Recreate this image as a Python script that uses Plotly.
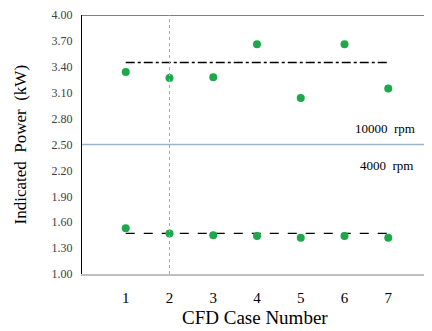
import plotly.graph_objects as go

cases = [1, 2, 3, 4, 5, 6, 7]
power_10000 = [3.34, 3.27, 3.28, 3.66, 3.04, 3.66, 3.15]
power_4000 = [1.53, 1.47, 1.45, 1.44, 1.42, 1.44, 1.42]
mean_10000 = 3.45
mean_4000 = 1.47
y_ticks = [1.00, 1.30, 1.60, 1.90, 2.20, 2.50, 2.80, 3.10, 3.40, 3.70, 4.00]
divider = 2.50

green = "#1ea84c"
font = "Liberation Serif, Times New Roman, serif"

fig = go.Figure()
fig.add_trace(go.Scatter(x=[cases[0], cases[-1]], y=[mean_10000, mean_10000], mode="lines",
                         line=dict(color="black", width=1.5, dash="dashdot"), showlegend=False))
fig.add_trace(go.Scatter(x=[cases[0], cases[-1]], y=[mean_4000, mean_4000], mode="lines",
                         line=dict(color="black", width=1.2, dash="dash"), showlegend=False))
fig.add_trace(go.Scatter(x=cases, y=power_10000, mode="markers",
                         marker=dict(color=green, size=8), showlegend=False))
fig.add_trace(go.Scatter(x=cases, y=power_4000, mode="markers",
                         marker=dict(color=green, size=8), showlegend=False))

fig.add_shape(type="line", xref="paper", yref="y", x0=0, x1=1, y0=divider, y1=divider,
              line=dict(color="#9bb3cf", width=1.5))
fig.add_shape(type="line", xref="paper", yref="y", x0=0, x1=1, y0=4.0, y1=4.0,
              line=dict(color="#7f7f7f", width=2))
fig.add_shape(type="line", xref="x", yref="paper", x0=2, x1=2, y0=0, y1=1,
              line=dict(color="#8faad3", width=1, dash="dot"))

fig.add_annotation(x=0.957, y=2.69, text="10000  rpm", showarrow=False, xref="paper", yref="y",
                   xanchor="right", font=dict(family=font, size=13, color="black"))
fig.add_annotation(x=0.952, y=2.26, text="4000  rpm", showarrow=False, xref="paper", yref="y",
                   xanchor="right", font=dict(family=font, size=13, color="black"))

# axis titles
fig.add_annotation(x=-62/350, y=0.5, xref="paper", yref="paper", text="Indicated  Power  (kW)",
                   textangle=-90, showarrow=False, xanchor="center", yanchor="middle",
                   font=dict(family=font, size=17, color="black"))
fig.add_annotation(x=173/350, y=-43/259, xref="paper", yref="paper", text="CFD Case Number",
                   showarrow=False, xanchor="center", yanchor="middle",
                   font=dict(family=font, size=19, color="black"))

fig.update_layout(
    width=424, height=323,
    margin=dict(l=74, r=0, t=7, b=57),
    plot_bgcolor="white", paper_bgcolor="white",
    font=dict(family=font, color="black"),
)
fig.update_xaxes(range=[0, 8], tickvals=cases, ticktext=[str(c) for c in cases],
                 showgrid=False, zeroline=False, showline=True, linecolor="#bfbfbf", linewidth=1.5,
                 ticks="", tickfont=dict(size=15, family=font), automargin=False,
                 ticklabelstandoff=9)
fig.update_yaxes(range=[1.0, 4.0], tickvals=y_ticks, ticktext=[f"{v:.2f}" for v in y_ticks],
                 showgrid=False, zeroline=False, showline=True, linecolor="black", linewidth=1,
                 ticks="", tickfont=dict(size=12, family=font, color="#404040"), automargin=False,
                 ticklabelstandoff=6)

fig.write_html("out.html")
